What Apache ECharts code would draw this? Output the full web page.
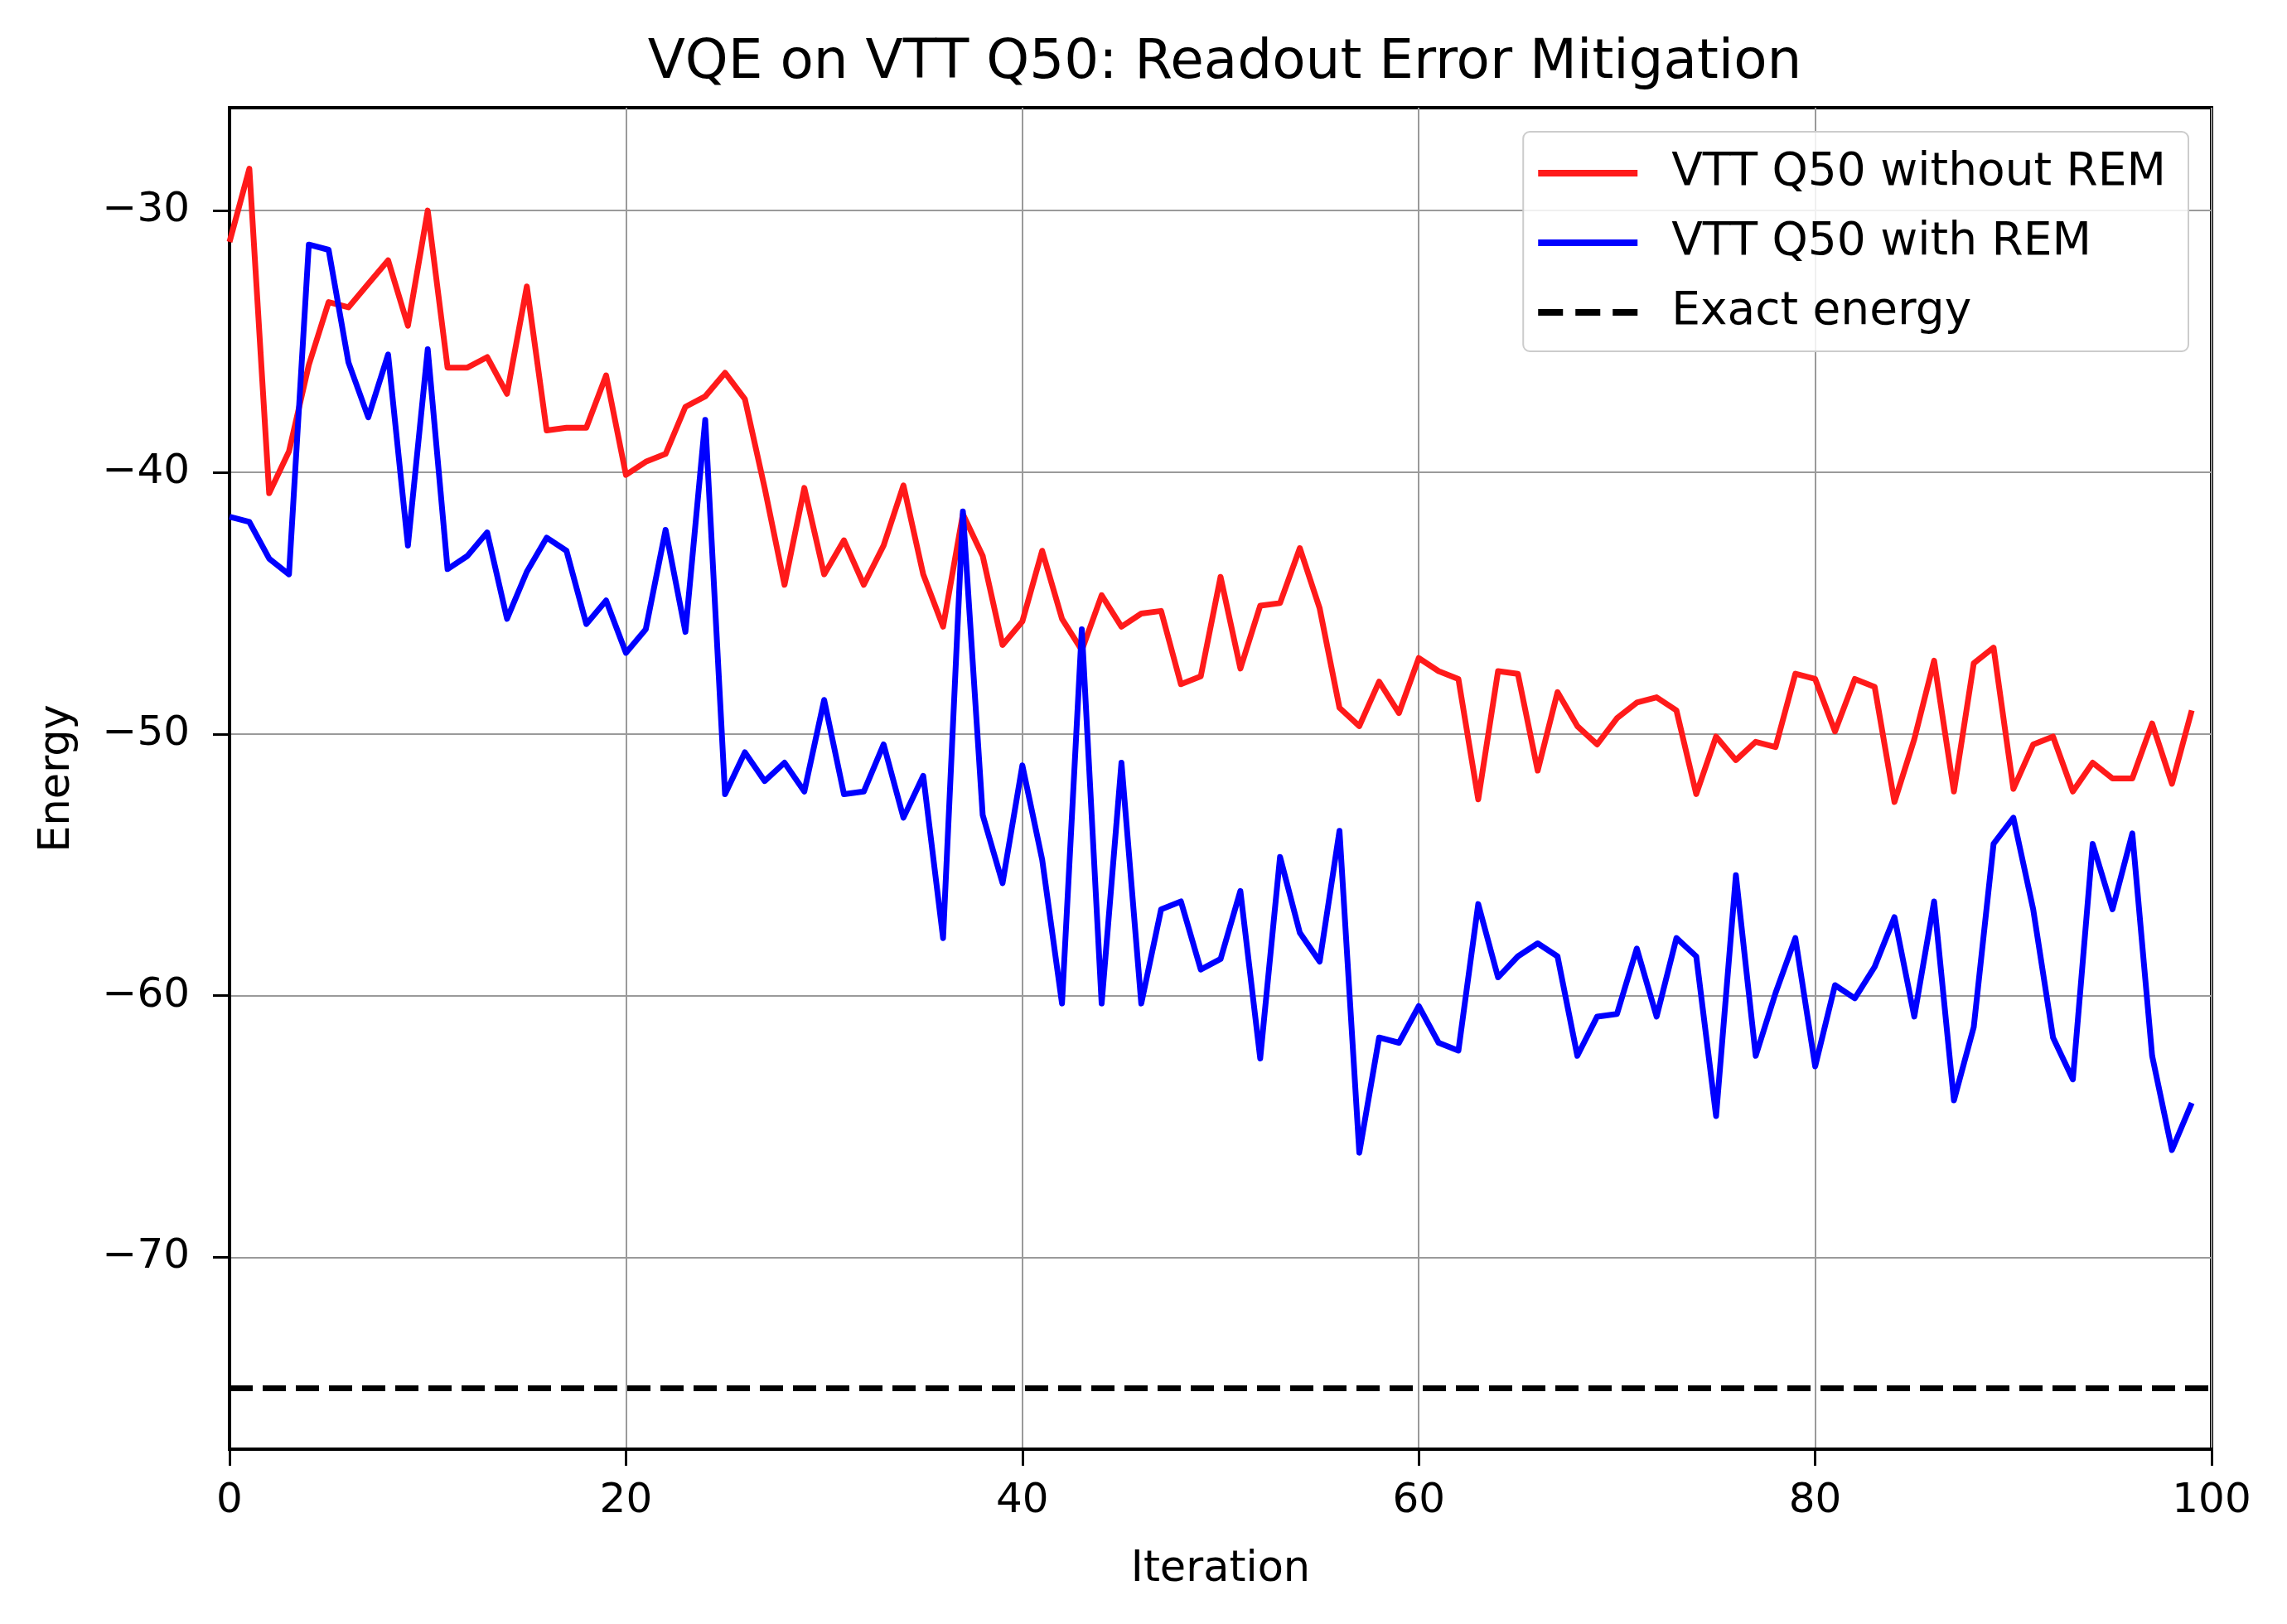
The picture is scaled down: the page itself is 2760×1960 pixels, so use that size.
<!DOCTYPE html>
<html>
<head>
<meta charset="utf-8">
<script src="https://cdn.jsdelivr.net/npm/echarts@6/dist/echarts.min.js"></script>
<style>
  html, body { margin: 0; padding: 0; background: #ffffff; }
  #chart { width: 2760px; height: 1960px; }
</style>
</head>
<body>
<div id="chart"></div>
<script>
// ---- data ----
const titleText = 'VQE on VTT Q50: Readout Error Mitigation';
const seriesNames = ['VTT Q50 without REM', 'VTT Q50 with REM', 'Exact energy'];

const withoutREM = [
  -31.2, -28.4, -40.8, -39.2, -35.9, -33.5, -33.7, -32.8, -31.9, -34.4,
  -30.0, -36.0, -36.0, -35.6, -37.0, -32.9, -38.4, -38.3, -38.3, -36.3,
  -40.1, -39.6, -39.3, -37.5, -37.1, -36.2, -37.2, -40.6, -44.3, -40.6,
  -43.9, -42.6, -44.3, -42.8, -40.5, -43.9, -45.9, -41.6, -43.2, -46.6,
  -45.7, -43.0, -45.6, -46.8, -44.7, -45.9, -45.4, -45.3, -48.1, -47.8,
  -44.0, -47.5, -45.1, -45.0, -42.9, -45.2, -49.0, -49.7, -48.0, -49.2,
  -47.1, -47.6, -47.9, -52.5, -47.6, -47.7, -51.4, -48.4, -49.7, -50.4,
  -49.4, -48.8, -48.6, -49.1, -52.3, -50.1, -51.0, -50.3, -50.5, -47.7,
  -47.9, -49.9, -47.9, -48.2, -52.6, -50.2, -47.2, -52.2, -47.3, -46.7,
  -52.1, -50.4, -50.1, -52.2, -51.1, -51.7, -51.7, -49.6, -51.9, -49.1
];

const withREM = [
  -41.7, -41.9, -43.3, -43.9, -31.3, -31.5, -35.8, -37.9, -35.5, -42.8,
  -35.3, -43.7, -43.2, -42.3, -45.6, -43.8, -42.5, -43.0, -45.8, -44.9,
  -46.9, -46.0, -42.2, -46.1, -38.0, -52.3, -50.7, -51.8, -51.1, -52.2,
  -48.7, -52.3, -52.2, -50.4, -53.2, -51.6, -57.8, -41.5, -53.1, -55.7,
  -51.2, -54.8, -60.3, -46.0, -60.3, -51.1, -60.3, -56.7, -56.4, -59.0,
  -58.6, -56.0, -62.4, -54.7, -57.6, -58.7, -53.7, -66.0, -61.6, -61.8,
  -60.4, -61.8, -62.1, -56.5, -59.3, -58.5, -58.0, -58.5, -62.3, -60.8,
  -60.7, -58.2, -60.8, -57.8, -58.5, -64.6, -55.4, -62.3, -59.9, -57.8,
  -62.7, -59.6, -60.1, -58.9, -57.0, -60.8, -56.4, -64.0, -61.2, -54.2,
  -53.2, -56.7, -61.6, -63.2, -54.2, -56.7, -53.8, -62.3, -65.9, -64.1
];

const exactEnergy = -75.0;

const xRange = [0, 100];
const xTickStep = 20;
const yRange = [-77.33, -26.07];
const yTicks = [-70, -60, -50, -40, -30];

// ---- chart ----
const FONT = 'DejaVu Sans';
const toPairs = arr => arr.map((v, i) => [i, v]);
const fmt = v => (v < 0 ? '\u2212' : '') + Math.abs(v);

const chart = echarts.init(document.getElementById('chart'), null, { renderer: 'canvas' });

const solidIcon = 'path://M0,0h120v8h-120z';
const dashIcon = 'path://M0,0h30v8h-30z M45,0h30v8h-30z M90,0h30v8h-30z';

const option = {
  animation: false,
  backgroundColor: '#ffffff',
  title: {
    text: titleText,
    left: 1473,
    textAlign: 'center',
    top: 39,
    textStyle: { fontFamily: FONT, fontSize: 66, fontWeight: 'normal', color: '#000000' }
  },
  legend: {
    orient: 'vertical',
    right: 119,
    top: 159,
    data: [
      { name: seriesNames[0], icon: solidIcon },
      { name: seriesNames[1], icon: solidIcon },
      { name: seriesNames[2], icon: dashIcon }
    ],
    itemWidth: 120,
    itemHeight: 8,
    itemGap: 24,
    padding: [20, 27, 17, 18],
    backgroundColor: 'rgba(255,255,255,0.85)',
    borderColor: '#cccccc',
    borderWidth: 2,
    borderRadius: 8,
    textStyle: { fontFamily: FONT, fontSize: 55, color: '#000000', lineHeight: 60, padding: [0, 0, 0, 36] }
  },
  grid: {
    left: 277,
    right: 91,
    top: 130,
    bottom: 211,
    show: true,
    borderColor: '#000000',
    borderWidth: 4,
    containLabel: false
  },
  xAxis: {
    type: 'value',
    min: xRange[0],
    max: xRange[1],
    interval: xTickStep,
    name: 'Iteration',
    nameLocation: 'middle',
    nameGap: 120,
    nameTextStyle: { fontFamily: FONT, fontSize: 51, color: '#000000' },
    axisLine: { show: true, lineStyle: { color: '#000000', width: 4 } },
    axisTick: { show: true, inside: false, length: 20, lineStyle: { color: '#000000', width: 3 } },
    axisLabel: { margin: 38, fontFamily: FONT, fontSize: 50, color: '#000000', formatter: fmt },
    splitLine: { show: true, lineStyle: { color: '#9a9a9a', width: 2 } }
  },
  yAxis: {
    type: 'value',
    min: yRange[0],
    max: yRange[1],
    name: 'Energy',
    nameLocation: 'middle',
    nameRotate: 90,
    nameGap: 182,
    nameTextStyle: { fontFamily: FONT, fontSize: 51, color: '#000000' },
    axisLine: { show: true, lineStyle: { color: '#000000', width: 4 } },
    axisTick: { show: true, inside: false, length: 20, customValues: yTicks, lineStyle: { color: '#000000', width: 3 } },
    axisLabel: { margin: 48, fontFamily: FONT, fontSize: 50, color: '#000000', customValues: yTicks, formatter: fmt },
    splitLine: { show: true, lineStyle: { color: '#9a9a9a', width: 2 } }
  },
  series: [
    {
      name: seriesNames[0],
      type: 'line',
      data: toPairs(withoutREM),
      showSymbol: false,
      symbol: 'none',
      lineStyle: { color: '#ff1a1a', width: 7, join: 'round' },
      itemStyle: { color: '#ff1a1a' },
      z: 3
    },
    {
      name: seriesNames[1],
      type: 'line',
      data: toPairs(withREM),
      showSymbol: false,
      symbol: 'none',
      lineStyle: { color: '#0000ff', width: 7, join: 'round' },
      itemStyle: { color: '#0000ff' },
      z: 4
    },
    {
      name: seriesNames[2],
      type: 'line',
      data: [[xRange[0], exactEnergy], [xRange[1], exactEnergy]],
      showSymbol: false,
      symbol: 'none',
      lineStyle: { color: '#000000', width: 7, type: [28, 12] },
      itemStyle: { color: '#000000' },
      z: 5
    }
  ]
};

chart.setOption(option);
</script>
</body>
</html>
